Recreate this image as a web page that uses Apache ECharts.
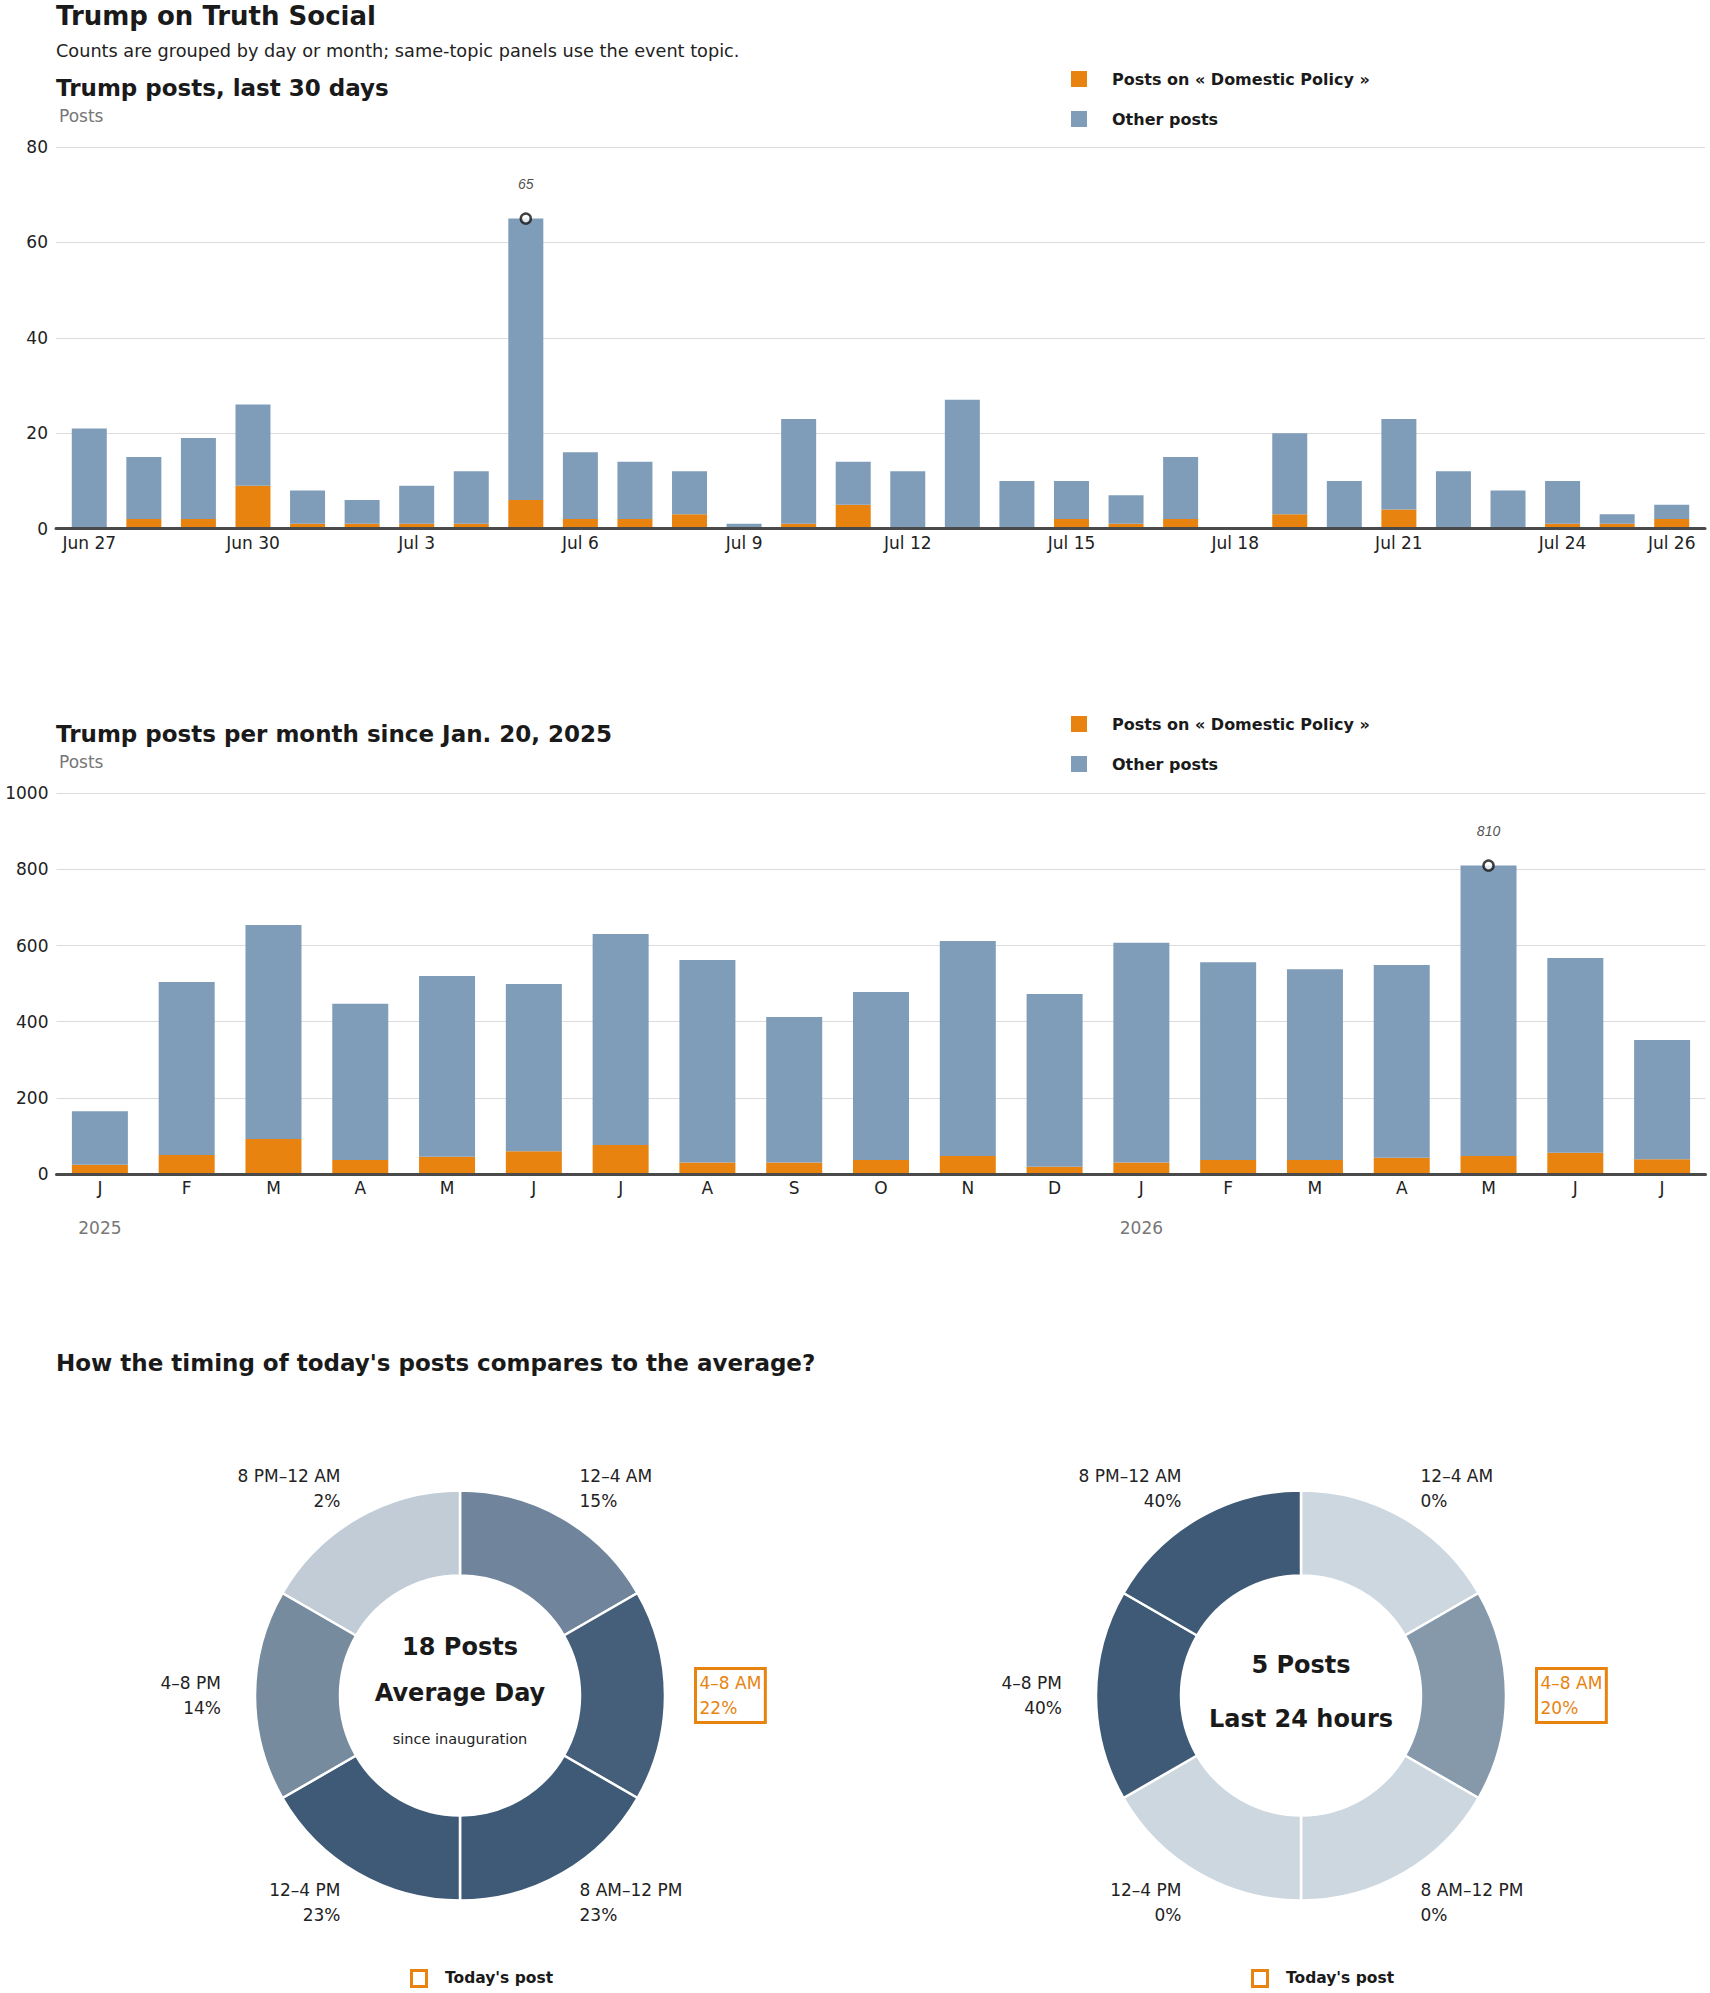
<!DOCTYPE html>
<html>
<head>
<meta charset="utf-8">
<script src="https://cdn.jsdelivr.net/npm/echarts@6/dist/echarts.min.js"></script>
<style>
html,body{margin:0;padding:0;background:#fff;}
#chart{width:1710px;height:1993px;}
</style>
</head>
<body>
<div id="chart"></div>
<script>
// ---------- DATA ----------
const dayLabels = ['Jun 27','Jun 28','Jun 29','Jun 30','Jul 1','Jul 2','Jul 3','Jul 4','Jul 5','Jul 6',
  'Jul 7','Jul 8','Jul 9','Jul 10','Jul 11','Jul 12','Jul 13','Jul 14','Jul 15','Jul 16',
  'Jul 17','Jul 18','Jul 19','Jul 20','Jul 21','Jul 22','Jul 23','Jul 24','Jul 25','Jul 26'];
const dailyDomestic = [0,2,2,9,1,1,1,1,6,2,2,3,0,1,5,0,0,0,2,1,2,0,3,0,4,0,0,1,1,2];
const dailyOther    = [21,13,17,17,7,5,8,11,59,14,12,9,1,22,9,12,27,10,8,6,13,0,17,10,19,12,8,9,2,3];
const dailyTicks = [0,20,40,60,80];

const monthLabels = ['Jan 2025','Feb 2025','Mar 2025','Apr 2025','May 2025','Jun 2025','Jul 2025','Aug 2025',
  'Sep 2025','Oct 2025','Nov 2025','Dec 2025','Jan 2026','Feb 2026','Mar 2026','Apr 2026','May 2026','Jun 2026','Jul 2026'];
const monthlyDomestic = [24,50,92,37,45,60,76,30,30,37,47,19,30,37,37,43,47,56,39];
const monthlyOther    = [141,454,562,410,475,439,554,532,382,441,565,454,577,519,501,506,763,511,313];
const monthlyTicks = [0,200,400,600,800,1000];

const timeSlots = ['12–4 AM','4–8 AM','8 AM–12 PM','12–4 PM','4–8 PM','8 PM–12 AM'];
const slotHours = [4,4,4,4,4,4];
const averageShare = [15,22,23,23,14,2];
const last24Share = [0,20,0,0,40,40];
const todaySlot = '4–8 AM';
const averagePostsPerDay = 18;
const last24Posts = 5;

const seriesDomestic = 'Posts on « Domestic Policy »';
const seriesOther = 'Other posts';

// ---------- STYLE ----------
const F = '"DejaVu Sans", "Noto Sans", sans-serif';
const ORANGE = '#e8830f';
const BLUE = '#7f9db9';
const INK = '#1a1a1a';
const TXT = '#222';
const GRAY = '#777';

function peakOf(a, b) {
  let idx = 0, best = -1;
  a.forEach((v, i) => { const t = v + b[i]; if (t > best) { best = t; idx = i; } });
  return [[idx, best]];
}
function shade(share, max) {
  const lo = [205, 215, 224], hi = [63, 90, 118];
  const t = max ? share / max : 0;
  const c = lo.map((l, k) => Math.round(l + (hi[k] - l) * t));
  return 'rgb(' + c.join(',') + ')';
}
function pieData(shares) {
  const max = Math.max.apply(null, shares);
  return timeSlots.map((s, i) => {
    const item = { name: s, value: slotHours[i], share: shares[i], itemStyle: { color: shade(shares[i], max) } };
    if (s === todaySlot) {
      item.label = { color: ORANGE, borderColor: ORANGE, borderWidth: 3, padding: [3, 4, 2, 4] };
      item.labelLine = { length: 30.5 };
    }
    return item;
  });
}
const titleStyle = (size, weight, color) => ({ fontFamily: F, fontSize: size, fontWeight: weight, color: color, lineHeight: size });

const chart = echarts.init(document.getElementById('chart'), null, { renderer: 'svg' });

const peakMarker = {
  symbol: 'circle', symbolSize: 10,
  itemStyle: { color: '#fff', borderColor: '#111', borderWidth: 2.5 },
  label: { show: true, position: 'top', distance: 21, formatter: p => String(p.value[1]),
           fontFamily: '"Liberation Sans", sans-serif', fontStyle: 'italic', fontSize: 14, color: TXT },
  z: 6, silent: true
};

const pieCommon = {
  type: 'pie', radius: [120, 205], startAngle: 90, clockwise: true,
  avoidLabelOverlap: false, silent: true,
  label: { show: true, position: 'outside', formatter: p => p.name + '\n' + p.data.share + '%',
           fontFamily: F, fontSize: 17, lineHeight: 24.5, color: TXT, distanceToLabelLine: 0 },
  labelLine: { show: false, length: 34, length2: 0 },
  itemStyle: { borderColor: '#fff', borderWidth: 2.5 },
  emphasis: { disabled: true }
};

const valueLabel = { fontFamily: F, fontSize: 17, color: TXT, margin: 8, formatter: v => String(v) };

const option = {
  backgroundColor: '#fff',
  animation: false,
  title: [
    { text: 'Trump on Truth Social', left: 56, top: 2.5, padding: 0, textStyle: titleStyle(26, 'bold', INK) },
    { text: 'Counts are grouped by day or month; same-topic panels use the event topic.', left: 56, top: 42, padding: 0, textStyle: titleStyle(17.7, 'normal', TXT) },
    { text: 'Trump posts, last 30 days', left: 56, top: 76.5, padding: 0, textStyle: titleStyle(23, 'bold', INK) },
    { text: 'Posts', left: 59, top: 107.5, padding: 0, textStyle: titleStyle(17, 'normal', GRAY) },
    { text: 'Trump posts per month since Jan. 20, 2025', left: 56, top: 722, padding: 0, textStyle: titleStyle(23, 'bold', INK) },
    { text: 'Posts', left: 59, top: 753, padding: 0, textStyle: titleStyle(17, 'normal', GRAY) },
    { text: "How the timing of today's posts compares to the average?", left: 56, top: 1351, padding: 0, textStyle: titleStyle(23, 'bold', INK) }
  ],
  legend: [71, 716].map(top => ({
    left: 1071, top: top, orient: 'vertical', padding: 0, icon: 'rect',
    itemWidth: 16, itemHeight: 16, itemGap: 24, selectedMode: false,
    data: [seriesDomestic, seriesOther],
    textStyle: { fontFamily: F, fontWeight: 'bold', fontSize: 16, lineHeight: 16, color: INK, padding: [0, 0, 0, 20] }
  })),
  grid: [
    { left: 56, right: 5, top: 147, bottom: 1993 - 528.6 },
    { left: 62, right: 11, top: 147, bottom: 1993 - 528.6 },
    { left: 56.5, right: 4.5, top: 793.2, bottom: 1993 - 1174 }
  ],
  xAxis: [
    { gridIndex: 0, type: 'category', data: dayLabels, z: 10,
      axisLine: { lineStyle: { color: '#4a4a4a', width: 3 } }, axisTick: { show: false }, axisLabel: { show: false }, splitLine: { show: false } },
    { gridIndex: 1, type: 'category', data: dayLabels,
      axisLine: { show: false }, axisTick: { show: false }, splitLine: { show: false },
      axisLabel: { interval: (i) => i % 3 === 0 || i === dayLabels.length - 1,
                   fontFamily: F, fontSize: 17, color: TXT, margin: 6 } },
    { gridIndex: 2, type: 'category', data: monthLabels, z: 10,
      axisLine: { lineStyle: { color: '#4a4a4a', width: 3 } }, axisTick: { show: false }, splitLine: { show: false },
      axisLabel: { interval: 0, margin: 4,
        formatter: (v) => { const parts = v.split(' '); const m = parts[0].charAt(0);
          return parts[0] === 'Jan' ? '{m|' + m + '}\n{y|' + parts[1] + '}' : '{m|' + m + '}'; },
        rich: { m: { fontFamily: F, fontSize: 17, color: TXT, lineHeight: 20 },
                y: { fontFamily: F, fontSize: 17, color: GRAY, lineHeight: 59 } } } }
  ],
  yAxis: [
    { gridIndex: 0, type: 'value', min: dailyTicks[0], max: dailyTicks[dailyTicks.length - 1], interval: dailyTicks[1] - dailyTicks[0],
      axisLine: { show: false }, axisTick: { show: false }, axisLabel: valueLabel,
      splitLine: { lineStyle: { color: '#dcdcdc', width: 1 } } },
    { gridIndex: 1, type: 'value', min: dailyTicks[0], max: dailyTicks[dailyTicks.length - 1], interval: dailyTicks[1] - dailyTicks[0], show: false, splitLine: { show: false } },
    { gridIndex: 2, type: 'value', min: monthlyTicks[0], max: monthlyTicks[monthlyTicks.length - 1], interval: monthlyTicks[1] - monthlyTicks[0],
      axisLine: { show: false }, axisTick: { show: false }, axisLabel: valueLabel,
      splitLine: { lineStyle: { color: '#dcdcdc', width: 1 } } }
  ],
  series: [
    { name: seriesDomestic, type: 'bar', xAxisIndex: 1, yAxisIndex: 1, stack: 'day', barWidth: 35,
      itemStyle: { color: ORANGE }, data: dailyDomestic, silent: true },
    { name: seriesOther, type: 'bar', xAxisIndex: 1, yAxisIndex: 1, stack: 'day', barWidth: 35,
      itemStyle: { color: BLUE }, data: dailyOther, silent: true },
    Object.assign({ name: 'peak-day', type: 'scatter', xAxisIndex: 1, yAxisIndex: 1, data: peakOf(dailyDomestic, dailyOther) }, peakMarker),
    { name: seriesDomestic, type: 'bar', xAxisIndex: 2, yAxisIndex: 2, stack: 'month', barWidth: 56,
      itemStyle: { color: ORANGE }, data: monthlyDomestic, silent: true },
    { name: seriesOther, type: 'bar', xAxisIndex: 2, yAxisIndex: 2, stack: 'month', barWidth: 56,
      itemStyle: { color: BLUE }, data: monthlyOther, silent: true },
    Object.assign({ name: 'peak-month', type: 'scatter', xAxisIndex: 2, yAxisIndex: 2, data: peakOf(monthlyDomestic, monthlyOther) }, peakMarker),
    Object.assign({}, pieCommon, { name: 'Average day', center: [460, 1695.5], data: pieData(averageShare) }),
    Object.assign({}, pieCommon, { name: 'Last 24 hours', center: [1301, 1695.5], data: pieData(last24Share) })
  ],
  graphic: [
    { type: 'text', x: 460, y: 1647, silent: true, style: { text: averagePostsPerDay + ' Posts', font: 'bold 24px ' + F, fill: INK, textAlign: 'center', textVerticalAlign: 'middle', align: 'center', verticalAlign: 'middle' } },
    { type: 'text', x: 460, y: 1692.5, silent: true, style: { text: 'Average Day', font: 'bold 24px ' + F, fill: INK, textAlign: 'center', textVerticalAlign: 'middle', align: 'center', verticalAlign: 'middle' } },
    { type: 'text', x: 460, y: 1738.5, silent: true, style: { text: 'since inauguration', font: 'normal 14.5px ' + F, fill: TXT, textAlign: 'center', textVerticalAlign: 'middle', align: 'center', verticalAlign: 'middle' } },
    { type: 'text', x: 1301, y: 1664.6, silent: true, style: { text: last24Posts + ' Posts', font: 'bold 24px ' + F, fill: INK, textAlign: 'center', textVerticalAlign: 'middle', align: 'center', verticalAlign: 'middle' } },
    { type: 'text', x: 1301, y: 1719, silent: true, style: { text: 'Last 24 hours', font: 'bold 24px ' + F, fill: INK, textAlign: 'center', textVerticalAlign: 'middle', align: 'center', verticalAlign: 'middle' } },
    { type: 'rect', silent: true, shape: { x: 411.5, y: 1970.5, width: 15, height: 16 }, style: { fill: '#fff', stroke: ORANGE, lineWidth: 3 } },
    { type: 'text', x: 445, y: 1978, silent: true, style: { text: "Today's post", font: 'bold 15.5px ' + F, fill: INK, textAlign: 'left', textVerticalAlign: 'middle', align: 'left', verticalAlign: 'middle' } },
    { type: 'rect', silent: true, shape: { x: 1252.5, y: 1970.5, width: 15, height: 16 }, style: { fill: '#fff', stroke: ORANGE, lineWidth: 3 } },
    { type: 'text', x: 1286, y: 1978, silent: true, style: { text: "Today's post", font: 'bold 15.5px ' + F, fill: INK, textAlign: 'left', textVerticalAlign: 'middle', align: 'left', verticalAlign: 'middle' } }
  ]
};
chart.setOption(option);
</script>
</body>
</html>
